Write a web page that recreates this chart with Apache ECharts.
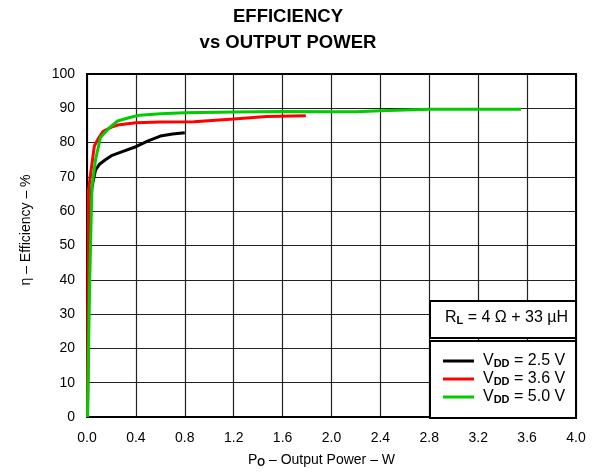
<!DOCTYPE html>
<html>
<head>
<meta charset="utf-8">
<script src="https://cdn.jsdelivr.net/npm/echarts@6/dist/echarts.min.js"></script>
<style>html,body{margin:0;padding:0;background:#fff;}#c{width:595px;height:474px;}</style>
</head>
<body>
<div id="c"></div>
<script>
var xTicks = [0.0, 0.4, 0.8, 1.2, 1.6, 2.0, 2.4, 2.8, 3.2, 3.6, 4.0];
var yTicks = [0, 10, 20, 30, 40, 50, 60, 70, 80, 90, 100];

var p25 = [0.004, 0.02, 0.04, 0.07, 0.1, 0.15, 0.2, 0.3, 0.4, 0.5, 0.6, 0.7, 0.8];
var eff25 = [0, 55, 67, 72, 73.6, 75, 76.2, 77.5, 78.8, 80.5, 81.9, 82.5, 82.9];

var p36 = [0.003, 0.012, 0.03, 0.06, 0.09, 0.13, 0.2, 0.25, 0.4, 0.6, 0.875, 1.2, 1.47, 1.79];
var eff36 = [0, 66, 71, 79, 81, 83.2, 84.5, 85.1, 85.8, 86.0, 86.1, 86.9, 87.6, 87.8];

var p50 = [0.004, 0.02, 0.04, 0.07, 0.11, 0.18, 0.25, 0.35, 0.43, 0.6, 0.8, 1.2, 1.6, 2.0, 2.2, 2.4, 2.8, 3.2, 3.55];
var eff50 = [0, 36, 67, 75, 81.5, 84.2, 86.3, 87.3, 88.0, 88.4, 88.7, 88.9, 89.1, 89.0, 89.0, 89.3, 89.7, 89.7, 89.7];

var seriesNames = ['2.5 V', '3.6 V', '5.0 V'];
var seriesColors = ['#000000', '#ff0000', '#00cc00'];

function pairs(xs, ys) { return xs.map(function (x, i) { return [x, ys[i]]; }); }

var FONT = 'Liberation Sans, Arial, sans-serif';
var chart = echarts.init(document.getElementById('c'));
var data = [pairs(p25, eff25), pairs(p36, eff36), pairs(p50, eff50)];

var subRich = function (size, sub) {
  return {
    t: { fontFamily: FONT, fontSize: size, color: '#000', fill: '#000' },
    s: { fontFamily: FONT, fontSize: sub, fontWeight: 'bold', color: '#000', fill: '#000', verticalAlign: 'bottom', padding: [6, 0, 0, 0] }
  };
};

chart.setOption({
  animation: false,
  backgroundColor: '#fff',
  textStyle: { fontFamily: FONT },
  title: {
    text: 'EFFICIENCY\nvs OUTPUT POWER',
    left: 283, top: -1, textAlign: 'center',
    textStyle: { fontFamily: FONT, fontSize: 18.5, fontWeight: 'bold', color: '#000', lineHeight: 26 }
  },
  grid: { left: 87, right: 19, top: 74, bottom: 57, show: true, borderColor: '#000', borderWidth: 2, z: 3 },
  xAxis: {
    type: 'value', min: 0, max: 4, interval: 0.4,
    axisLine: { show: true, lineStyle: { color: '#000', width: 2 } },
    axisTick: { show: false },
    axisLabel: { color: '#000', fontSize: 14, fontFamily: FONT, margin: 14,
      formatter: function (v) { return v.toFixed(1); } },
    splitLine: { show: true, lineStyle: { color: '#222', width: 1.2 } }
  },
  yAxis: {
    type: 'value', min: 0, max: 100, interval: 10,
    axisLine: { show: true, lineStyle: { color: '#000', width: 2 } },
    axisTick: { show: false },
    axisLabel: { color: '#000', fontSize: 14, fontFamily: FONT, margin: 12 },
    splitLine: { show: true, lineStyle: { color: '#222', width: 1.2 } }
  },
  legend: {
    orient: 'vertical', left: 438, top: 348, z: 20,
    itemWidth: 31, itemHeight: 3, itemGap: 2,
    icon: 'rect',
    data: seriesNames,
    formatter: function (n) { return '{t|V}{s|DD}{t| = ' + n + '}'; },
    textStyle: { rich: subRich(16, 11), padding: [0, 0, 0, 4], lineHeight: 16 }
  },
  graphic: [
    { type: 'rect', z: 10, shape: { x: 430, y: 301, width: 146, height: 37 },
      style: { fill: '#fff', stroke: '#000', lineWidth: 2 } },
    { type: 'rect', z: 10, shape: { x: 430, y: 341, width: 146, height: 77 },
      style: { fill: '#fff', stroke: '#000', lineWidth: 2 } },
    { type: 'text', z: 11, left: 445, top: 310,
      style: { text: '{t|R}{s|L}{t| = 4 Ω + 33 µH}', rich: subRich(16, 11) } },
    { type: 'text', z: 11, x: 26, y: 230, rotation: Math.PI / 2,
      style: { text: 'η – Efficiency – %', fontFamily: FONT, fontSize: 14, fill: '#000',
        textAlign: 'center', textVerticalAlign: 'middle' } },
    { type: 'text', z: 11, left: 248, top: 453,
      style: { text: '{t|P}{s|O}{t| – Output Power – W}', rich: subRich(14, 10) } }
  ],
  series: data.map(function (d, i) {
    return {
      name: seriesNames[i], type: 'line', data: d, symbol: 'none', smooth: false,
      lineStyle: { color: seriesColors[i], width: 3 }, itemStyle: { color: seriesColors[i] }, z: 5 + i
    };
  })
});
</script>
</body>
</html>
